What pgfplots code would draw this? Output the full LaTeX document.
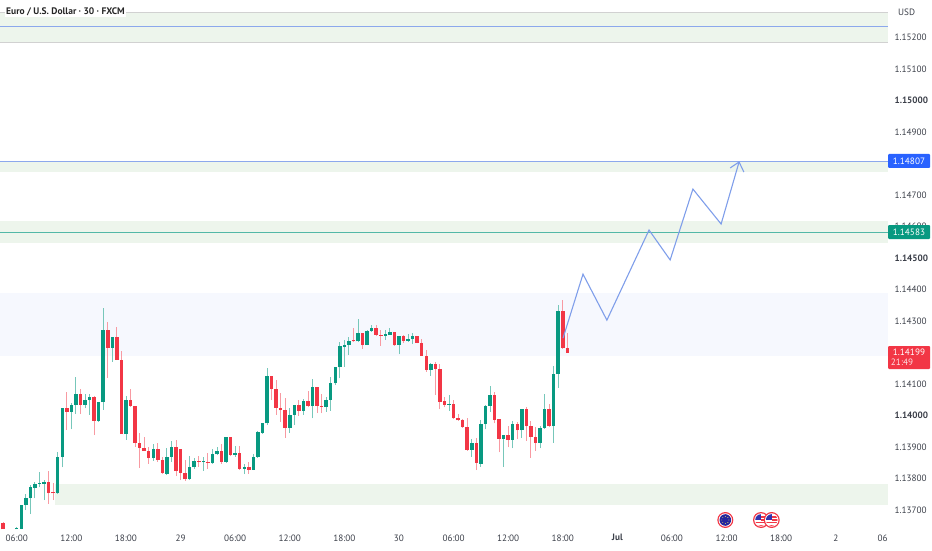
\documentclass[border=0pt]{standalone}
\usepackage{pgfplots}
\usepackage{pgfplotstable}
\usepackage{fontspec}
\setmainfont{PT Sans}
\pgfplotsset{compat=1.18}
\usetikzlibrary{calc}
\definecolor{upc}{HTML}{089981}
\definecolor{dnc}{HTML}{F23645}
\definecolor{zoneg}{HTML}{EDF5EC}
\definecolor{zonel}{HTML}{F6F8FE}
\definecolor{arrowc}{HTML}{7F9EEA}
\definecolor{txt}{HTML}{3A3E48}
\definecolor{tvblue}{HTML}{2962FF}
\pgfplotstableread{
i o h l c
3 1.13639 1.13645 1.13639 1.13643
4 1.13641 1.13716 1.13639 1.13716
5 1.13716 1.13751 1.13700 1.13738
6 1.13738 1.13780 1.13687 1.13772
7 1.13771 1.13790 1.13737 1.13784
8 1.13784 1.13821 1.13772 1.13787
9 1.13784 1.13795 1.13732 1.13789
12 1.13753 1.13885 1.13751 1.13868
13 1.13868 1.14024 1.13836 1.14024
15 1.14012 1.14039 1.13956 1.14033
16 1.14033 1.14121 1.14005 1.14070
18 1.14034 1.14068 1.14023 1.14048
19 1.14048 1.14070 1.14003 1.14060
21 1.13984 1.14043 1.13980 1.14043
22 1.14043 1.14340 1.14018 1.14271
24 1.14215 1.14248 1.14171 1.14248
27 1.13941 1.14062 1.13924 1.14048
33 1.13865 1.13910 1.13857 1.13895
36 1.13816 1.13896 1.13811 1.13870
37 1.13870 1.13920 1.13853 1.13900
41 1.13798 1.13871 1.13795 1.13836
42 1.13836 1.13864 1.13832 1.13856
44 1.13854 1.13869 1.13825 1.13855
46 1.13849 1.13893 1.13848 1.13877
47 1.13877 1.13901 1.13875 1.13889
49 1.13853 1.13931 1.13850 1.13931
51 1.13876 1.13903 1.13869 1.13882
53 1.13832 1.13848 1.13814 1.13837
55 1.13829 1.13878 1.13827 1.13869
56 1.13869 1.13952 1.13867 1.13947
57 1.13946 1.13977 1.13943 1.13977
58 1.13975 1.14150 1.13970 1.14125
63 1.13960 1.14023 1.13946 1.14002
64 1.14002 1.14035 1.13970 1.14035
66 1.14015 1.14052 1.14002 1.14047
68 1.14030 1.14117 1.13991 1.14090
71 1.14027 1.14058 1.14012 1.14051
72 1.14051 1.14121 1.14015 1.14102
73 1.14102 1.14155 1.14097 1.14153
74 1.14153 1.14234 1.14118 1.14221
75 1.14219 1.14240 1.14155 1.14225
76 1.14225 1.14248 1.14192 1.14238
78 1.14236 1.14306 1.14233 1.14261
80 1.14224 1.14271 1.14223 1.14268
81 1.14268 1.14289 1.14266 1.14277
84 1.14254 1.14271 1.14240 1.14258
85 1.14257 1.14277 1.14256 1.14265
87 1.14224 1.14252 1.14195 1.14252
89 1.14238 1.14259 1.14234 1.14243
90 1.14242 1.14261 1.14227 1.14252
94 1.14144 1.14168 1.14125 1.14165
98 1.14034 1.14065 1.14015 1.14037
103 1.13891 1.13926 1.13869 1.13912
105 1.13848 1.13986 1.13838 1.13973
106 1.13973 1.14033 1.13956 1.14032
107 1.14032 1.14094 1.14012 1.14064
110 1.13926 1.13938 1.13838 1.13938
112 1.13924 1.13984 1.13896 1.13973
114 1.13953 1.14022 1.13930 1.14022
118 1.13914 1.13967 1.13896 1.13962
119 1.13962 1.14068 1.13959 1.14020
121 1.13967 1.14159 1.13914 1.14132
122 1.14132 1.14351 1.14089 1.14331
}\upbars
\pgfplotstableread{
i o h l c
0 1.13658 1.13663 1.13639 1.13639
10 1.13790 1.13823 1.13719 1.13753
11 1.13757 1.13787 1.13732 1.13753
14 1.14024 1.14075 1.13954 1.14012
17 1.14070 1.14083 1.14005 1.14034
20 1.14060 1.14062 1.13938 1.13984
23 1.14271 1.14298 1.14120 1.14215
25 1.14248 1.14282 1.14176 1.14178
26 1.14178 1.14206 1.13941 1.13941
28 1.14048 1.14083 1.14028 1.14030
29 1.14030 1.14030 1.13901 1.13913
30 1.13913 1.13946 1.13835 1.13898
31 1.13898 1.13933 1.13887 1.13887
32 1.13889 1.13901 1.13848 1.13865
34 1.13895 1.13912 1.13853 1.13859
35 1.13859 1.13869 1.13816 1.13819
38 1.13900 1.13922 1.13808 1.13824
39 1.13895 1.13895 1.13795 1.13818
40 1.13818 1.13859 1.13793 1.13798
43 1.13857 1.13871 1.13838 1.13853
45 1.13853 1.13882 1.13832 1.13849
48 1.13889 1.13910 1.13848 1.13853
50 1.13931 1.13931 1.13871 1.13876
52 1.13882 1.13903 1.13827 1.13832
54 1.13837 1.13854 1.13816 1.13829
59 1.14125 1.14125 1.14049 1.14083
60 1.14083 1.14113 1.14002 1.14025
61 1.14025 1.14073 1.13980 1.14017
62 1.14017 1.14055 1.13929 1.13960
65 1.14035 1.14051 1.13999 1.14015
67 1.14047 1.14079 1.14026 1.14030
69 1.14090 1.14090 1.14009 1.14032
70 1.14032 1.14068 1.14007 1.14027
77 1.14240 1.14277 1.14234 1.14236
79 1.14261 1.14261 1.14213 1.14224
82 1.14277 1.14287 1.14252 1.14256
83 1.14257 1.14271 1.14221 1.14255
86 1.14265 1.14265 1.14221 1.14223
88 1.14252 1.14256 1.14229 1.14238
91 1.14252 1.14252 1.14229 1.14231
92 1.14231 1.14242 1.14190 1.14190
93 1.14190 1.14208 1.14139 1.14144
95 1.14165 1.14171 1.14065 1.14148
96 1.14148 1.14164 1.14020 1.14044
97 1.14045 1.14060 1.14026 1.14034
99 1.14037 1.14051 1.13988 1.13991
100 1.13992 1.14005 1.13984 1.13985
101 1.13985 1.13988 1.13962 1.13964
102 1.13965 1.13994 1.13888 1.13891
104 1.13912 1.13928 1.13827 1.13849
108 1.14064 1.14075 1.13975 1.13987
109 1.13988 1.13988 1.13883 1.13926
111 1.13938 1.13967 1.13899 1.13924
113 1.13973 1.13980 1.13925 1.13953
115 1.14021 1.14028 1.13920 1.13967
116 1.13967 1.13984 1.13866 1.13932
117 1.13932 1.13965 1.13888 1.13914
120 1.14020 1.14037 1.13965 1.13967
123 1.14331 1.14367 1.14213 1.14215
124 1.14216 1.14261 1.14199 1.14199
}\downbars
\newcommand{\usflag}[1]{%
  \fill[dnc] (#1) circle (8pt);
  \fill[white] (#1) circle (6.7pt);
  \begin{scope}
    \clip (#1) circle (5.8pt);
    \fill[white] (#1) circle (5.8pt);
    \fill[dnc] ($(#1)+(-6pt,-3.2pt)$) rectangle ++(12pt,1.5pt);
    \fill[dnc] ($(#1)+(-6pt,-6pt)$) rectangle ++(12pt,1.2pt);
    \fill[dnc] ($(#1)+(0pt,-0.6pt)$) rectangle ++(6pt,1.4pt);
    \fill[dnc] ($(#1)+(0pt,2.4pt)$) rectangle ++(6pt,1.4pt);
    \fill[blue!60!black!80!white] ($(#1)+(-6pt,-0.4pt)$) rectangle ++(6pt,6.5pt);
  \end{scope}}
\begin{document}
\begin{tikzpicture}
\useasboundingbox (0,0) rectangle (932pt,550pt);
\begin{axis}[
  at={(0pt,20pt)}, anchor=south west,
  scale only axis, width=888pt, height=530pt,
  xmin=-0.681, xmax=194.48, ymin=1.13637, ymax=1.15319,
  axis line style={draw=none},
  major tick length=0pt,
  xtick={3,15,27,39,51,63,75,87,99,111,123,135,147,159,171,183,193.3},
  xticklabels={06:00,12:00,18:00,29,06:00,12:00,18:00,30,06:00,12:00,18:00,\textbf{Jul},06:00,12:00,18:00,2,06},
  ytick={1.137,1.138,1.139,1.140,1.141,1.143,1.144,1.145,1.146,1.147,1.149,1.150,1.151,1.152},
  yticklabels={1.13700,1.13800,1.13900,\textbf{1.14000},1.14100,1.14300,1.14400,\textbf{1.14500},1.14600,1.14700,1.14900,\textbf{1.15000},1.15100,1.15200},
  yticklabel pos=right,
  tick label style={font=\fontsize{9.2}{10}\selectfont, text=txt},
  yticklabel style={anchor=west, xshift=3pt},
  xticklabel style={yshift=-1pt},
]
% zones
\addplot[fill=zoneg, draw=none, forget plot] coordinates {(-0.681,1.15186)(194.48,1.15186)(194.48,1.15281)(-0.681,1.15281)} -- cycle;
\addplot[fill=zoneg, draw=none, forget plot] coordinates {(-0.681,1.14773)(194.48,1.14773)(194.48,1.14807)(-0.681,1.14807)} -- cycle;
\addplot[fill=zoneg, draw=none, forget plot] coordinates {(-0.681,1.14549)(194.48,1.14549)(194.48,1.14618)(-0.681,1.14618)} -- cycle;
\addplot[fill=zonel, draw=none, forget plot] coordinates {(-0.681,1.14189)(194.48,1.14189)(194.48,1.14389)(-0.681,1.14389)} -- cycle;
\addplot[fill=zoneg, draw=none, forget plot] coordinates {(11.4,1.13717)(194.48,1.13717)(194.48,1.13784)(11.4,1.13784)} -- cycle;
% levels
\addplot[color=black!18, line width=0.5pt, forget plot] coordinates {(-0.681,1.15281)(194.48,1.15281)};
\addplot[color=black!18, line width=0.5pt, forget plot] coordinates {(-0.681,1.15186)(194.48,1.15186)};
\addplot[color=arrowc!90!white, line width=0.5pt, forget plot] coordinates {(-0.681,1.15237)(194.48,1.15237)};
\addplot[color=arrowc!90!white, line width=0.5pt, forget plot] coordinates {(-0.681,1.14807)(194.48,1.14807)};
\addplot[color=upc!70!white, line width=0.5pt, forget plot] coordinates {(-0.681,1.14583)(194.48,1.14583)};
% wicks
\addplot[draw=none, mark=none, forget plot, error bars/.cd, y dir=plus, y explicit, error mark=none,
  error bar style={solid, line width=0.9pt, draw=upc!55!white}]
  table[x=i, y=l, y error plus expr=\thisrow{h}-\thisrow{l}] {\upbars};
\addplot[draw=none, mark=none, forget plot, error bars/.cd, y dir=plus, y explicit, error mark=none,
  error bar style={solid, line width=0.9pt, draw=dnc!50!white}]
  table[x=i, y=l, y error plus expr=\thisrow{h}-\thisrow{l}] {\downbars};
% bodies
\addplot[draw=none, mark=none, forget plot, error bars/.cd, y dir=plus, y explicit, error mark=none,
  error bar style={solid, line width=3.5pt, draw=upc}]
  table[x=i, y=o, y error plus expr=\thisrow{c}-\thisrow{o}] {\upbars};
\addplot[draw=none, mark=none, forget plot, error bars/.cd, y dir=plus, y explicit, error mark=none,
  error bar style={solid, line width=3.5pt, draw=dnc}]
  table[x=i, y=c, y error plus expr=\thisrow{o}-\thisrow{c}] {\downbars};
% projected path
\addplot[color=arrowc, line width=1.1pt, forget plot] coordinates {
 (123.06,1.14246)(127.45,1.14449)(132.7,1.14303)(141.96,1.14589)(146.6,1.14494)(151.6,1.14719)(157.8,1.14608)(161.75,1.14805)};
\addplot[color=arrowc, line width=1.1pt, forget plot] coordinates {(159.8,1.14786)(161.75,1.14805)(162.8,1.14773)};
\end{axis}
% overlays in image pixels
\node[anchor=west, inner sep=1pt, fill=white, text=black!85, font=\fontsize{9.5}{10}\selectfont\bfseries] at (5pt,538pt) {Euro / U.S. Dollar · 30 · FXCM};
\node[anchor=west, inner sep=0pt, text=txt, font=\fontsize{9.2}{10}\selectfont] at (898pt,538pt) {USD};
\fill[tvblue, rounded corners=1pt] (888pt,382pt) rectangle (930pt,396pt);
\node[text=white, inner sep=0pt, font=\fontsize{9.2}{10}\selectfont] at (909pt,389pt) {1.14807};
\fill[upc, rounded corners=1pt] (888pt,311pt) rectangle (930pt,325pt);
\node[text=white, inner sep=0pt, font=\fontsize{9.2}{10}\selectfont] at (909pt,318pt) {1.14583};
\fill[dnc, rounded corners=1pt] (888pt,181pt) rectangle (930pt,204pt);
\node[text=white, inner sep=0pt, font=\fontsize{9.2}{10}\selectfont] at (909pt,198pt) {1.14199};
\node[text=white!85!dnc, inner sep=0pt, font=\fontsize{9.2}{10}\selectfont] at (902pt,188pt) {21:49};
% event icons
\fill[dnc] (725.3pt,30pt) circle (8pt);
\fill[white] (725.3pt,30pt) circle (6.7pt);
\fill[blue!55!black!85!white] (725.3pt,30pt) circle (5.8pt);
\foreach \a in {0,45,...,315} \fill[yellow!70!white] ($(725.3pt,30pt)+(\a:3.6pt)$) circle (0.45pt);
\usflag{761pt,30pt}
\usflag{771.7pt,30pt}
\end{tikzpicture}
\end{document}
